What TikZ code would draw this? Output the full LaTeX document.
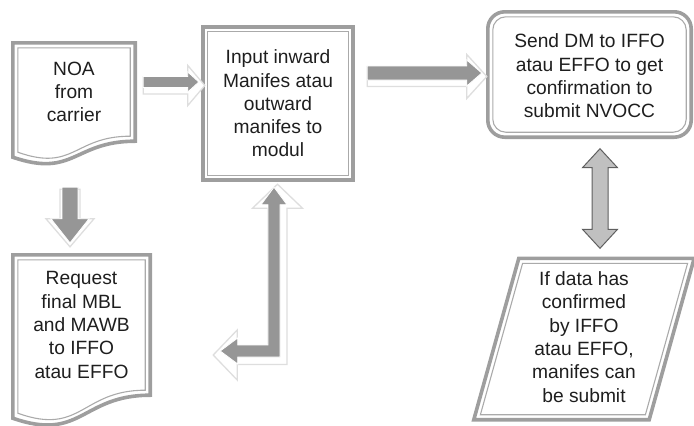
\documentclass[tikz,border=0pt]{standalone}
\usepackage{fontspec}
\setmainfont{Liberation Sans}
\usetikzlibrary{calc}
\definecolor{bordergray}{RGB}{158,158,158}
\definecolor{innergray}{RGB}{170,170,170}
\definecolor{arrowgray}{RGB}{150,150,150}
\definecolor{shadowgray}{RGB}{222,222,222}
\definecolor{dblfill}{RGB}{192,192,192}
\definecolor{dblline}{RGB}{95,95,95}
\definecolor{textcol}{RGB}{30,30,30}
\newcommand\myharrow[6]{%
\path[#1] let \p1=(#2), \p2=(#3) in
 (\x1,\y1+#4pt) -- (\x2-#6pt,\y1+#4pt) -- (\x2-#6pt,\y1+#5pt) -- (\x2,\y1) -- (\x2-#6pt,\y1-#5pt) -- (\x2-#6pt,\y1-#4pt) -- (\x1,\y1-#4pt) -- cycle;}
\newcommand\myvarrow[6]{%
\path[#1] let \p1=(#2), \p2=(#3) in
 (\x1-#4pt,\y1) -- (\x1-#4pt,\y2+#6pt) -- (\x1-#5pt,\y2+#6pt) -- (\x1,\y2) -- (\x1+#5pt,\y2+#6pt) -- (\x1+#4pt,\y2+#6pt) -- (\x1+#4pt,\y1) -- cycle;}
\newcommand\mydvarrow[6]{%
\path[#1] let \p1=(#2), \p2=(#3) in
 (\x1,\y1) -- (\x1+#5pt,\y1-#6pt) -- (\x1+#4pt,\y1-#6pt) -- (\x1+#4pt,\y2+#6pt) -- (\x1+#5pt,\y2+#6pt) -- (\x1,\y2) -- (\x1-#5pt,\y2+#6pt) -- (\x1-#4pt,\y2+#6pt) -- (\x1-#4pt,\y1-#6pt) -- (\x1-#5pt,\y1-#6pt) -- cycle;}
\newcommand\myelarrow[6]{%
\path[#1] let \p1=(#2), \p2=(#3) in
 (\x1,\y1) -- (\x1+#5pt,\y1-#6pt) -- (\x1+#4pt,\y1-#6pt) -- (\x1+#4pt,\y2-#4pt) -- (\x2+#6pt,\y2-#4pt) -- (\x2+#6pt,\y2-#5pt) -- (\x2,\y2) -- (\x2+#6pt,\y2+#5pt) -- (\x2+#6pt,\y2+#4pt) -- (\x1-#4pt,\y2+#4pt) -- (\x1-#4pt,\y1-#6pt) -- (\x1-#5pt,\y1-#6pt) -- cycle;}
\begin{document}
\begin{tikzpicture}[x=1pt,y=-1pt,
  lbl/.style={align=center, text=textcol, font=\fontsize{19.2}{23.3}\selectfont, inner sep=0pt},
  outerline/.style={draw=bordergray, line width=3.6pt},
  innerline/.style={draw=innergray, line width=1.1pt},
  mainarrow/.style={fill=arrowgray, draw=white, line width=0.8pt},
  shadowarrow/.style={fill=white, draw=shadowgray, line width=1.3pt},
  dblarrow/.style={fill=dblfill, draw=dblline, line width=1pt}]
\useasboundingbox (0,0) rectangle (694,426);

% ---------- nodes ----------
\node[lbl, minimum width=122pt, minimum height=98pt] (noa) at (74,92) {NOA\\from\\carrier};
\node[lbl, minimum width=137pt, minimum height=140pt] (req) at (81.5,325) {Request\\final MBL\\and MAWB\\to IFFO\\atau EFFO};
\node[lbl, minimum width=150pt, minimum height=149pt] (inp) at (278,103.5) {Input inward\\Manifes atau\\outward\\manifes to\\modul};
\node[lbl, minimum width=203pt, minimum height=125pt] (dm) at (589.5,76) {Send DM to IFFO\\atau EFFO to get\\confirmation to\\submit NVOCC};
\node[lbl, minimum width=220pt, minimum height=161pt] (par) at (584,337) {If data has\\confirmed\\by IFFO\\atau EFFO,\\manifes can\\be submit};

% ---------- shapes ----------
% NOA document
\draw[outerline] (noa.north west) -- (noa.north east) -- (noa.south east)
  .. controls (noa.south) and ($(noa.south)+(0,37)$) .. ($(noa.south west)+(0,16)$) -- cycle;
\draw[innerline] ($(noa.north west)+(5,5)$) -- ($(noa.north east)+(-5,5)$) -- ($(noa.south east)+(-5,-5)$)
  .. controls ($(noa.south)+(0,-5)$) and ($(noa.south)+(0,31)$) .. ($(noa.south west)+(5,11)$) -- cycle;
% Request document
\draw[outerline] (req.north west) -- (req.north east) -- (req.south east)
  .. controls (req.south) and ($(req.south)+(0,47)$) .. ($(req.south west)+(0,23)$) -- cycle;
\draw[innerline] ($(req.north west)+(5,5)$) -- ($(req.north east)+(-5,5)$) -- ($(req.south east)+(-5,-5)$)
  .. controls ($(req.south)+(0,-5)$) and ($(req.south)+(0,41)$) .. ($(req.south west)+(5,18)$) -- cycle;
% Input box
\draw[outerline] ($(inp.north west)+(0,-2)$) rectangle ($(inp.south east)+(0,2)$);
\draw[innerline] ($(inp.north west)+(5,3)$) rectangle ($(inp.south east)+(-5,-3)$);
% Send DM rounded box
\draw[outerline, rounded corners=17pt] ($(dm.north west)+(0,-1.5)$) rectangle ($(dm.south east)+(0,-1.5)$);
\draw[innerline, rounded corners=13pt] ($(dm.north west)+(5,3.5)$) rectangle ($(dm.south east)+(-5,-6.5)$);
% Parallelogram
\draw[outerline] ($(par.north west)+(45,2)$) -- ($(par.north east)+(0,2)$) -- ($(par.south east)+(-45,2)$) -- ($(par.south west)+(0,2)$) -- cycle;
\draw[innerline] ($(par.north west)+(48.8,7)$) -- ($(par.north east)+(-6.6,7)$) -- ($(par.south east)+(-48.8,-3)$) -- ($(par.south west)+(6.6,-3)$) -- cycle;

% ---------- connector end points ----------
\coordinate (a1s) at ($(noa.east)+(8,-10)$);
\coordinate (a1t) at ($(inp.west)+(-4,-21.5)$);
\coordinate (a2s) at ($(inp.east)+(14,-30.5)$);
\coordinate (a2t) at ($(dm.west)+(-6,-3)$);
\coordinate (a3s) at ($(noa.south)+(-4,46)$);
\coordinate (a3t) at ($(req.north)+(-11.5,-12)$);
\coordinate (a4u) at ($(inp.south)+(-4,9)$);
\coordinate (a4l) at ($(req.east)+(70,26)$);
\coordinate (a5u) at ($(dm.south)+(10.5,10)$);
\coordinate (a5d) at ($(par.north)+(16,-8)$);

% ---------- arrows ----------
% NOA -> Input
\myharrow{shadowarrow}{$(a1s)+(0,3.5)$}{$(a1t)+(6,3.5)$}{8.5}{20}{17}
\myharrow{mainarrow}{a1s}{a1t}{5.5}{10}{11}
% Input -> Send DM
\myharrow{shadowarrow}{$(a2s)+(0,3.5)$}{$(a2t)+(5,3.5)$}{10}{22}{20}
\myharrow{mainarrow}{a2s}{a2t}{7}{13}{15}
% NOA -> Request
\myvarrow{shadowarrow}{$(a3s)+(0,2)$}{$(a3t)+(0,4)$}{10}{24}{28}
\myvarrow{mainarrow}{a3s}{a3t}{8}{19}{24}
% Elbow arrow (up to Input, left)
\myelarrow{shadowarrow}{$(a4u)+(3.5,-3)$}{$(a4l)+(-7,4)$}{9.5}{25}{24}
\myelarrow{mainarrow}{a4u}{a4l}{6}{13}{17.5}
% Double arrow Send DM <-> parallelogram
\mydvarrow{dblarrow}{a5u}{a5d}{8}{17.5}{19}
\end{tikzpicture}
\end{document}
